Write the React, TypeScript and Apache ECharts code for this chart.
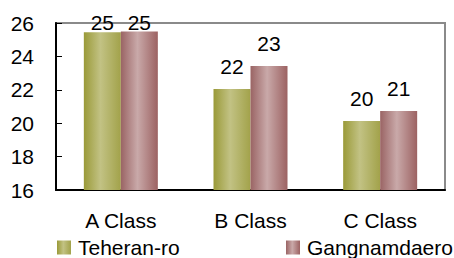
import React, { useEffect, useRef } from "react";
import * as echarts from "echarts";

const categories = ["A Class", "B Class", "C Class"];
const seriesNames = ["Teheran-ro", "Gangnamdaero"];
const teheranValues = [25.45, 22.05, 20.13];
const gangnamValues = [25.49, 23.43, 20.73];
const yTicks = { min: 16, max: 26, interval: 2 };

const FONT = 'Arial, "Liberation Sans", sans-serif';
const FS = 21;

function grad(stops: string[]) {
  return new echarts.graphic.LinearGradient(0, 0, 1, 0, [
    { offset: 0, color: stops[0] },
    { offset: 0.45, color: stops[1] },
    { offset: 1, color: stops[2] },
  ]);
}

function items(vals: number[]) {
  return vals.map((v) =>
    v > 25 ? { value: v, label: { distance: -1 } } : { value: v }
  );
}

export default function App() {
  const ref = useRef<HTMLDivElement>(null);
  useEffect(() => {
    document.body.style.margin = "0";
    const chart = echarts.init(ref.current!, null, { renderer: "svg" });
    const labelCfg = {
      show: true,
      position: "top" as const,
      distance: 12,
      color: "#000",
      fontSize: FS,
      fontFamily: FONT,
      formatter: (p: any) => String(Math.round(p.value)),
    };
    const legendText = {
      fontSize: FS,
      fontFamily: FONT,
      color: "#000",
      lineHeight: 20,
      padding: [0, 0, 0, 2],
    };
    chart.setOption({
      animation: false,
      backgroundColor: "#fff",
      grid: {
        left: 56,
        right: 9,
        top: 23,
        bottom: 68,
        show: true,
        borderColor: "#8a8a8a",
        borderWidth: 2,
        backgroundColor: "transparent",
      },
      legend: [
        {
          data: [seriesNames[0]],
          left: 57,
          top: 237,
          itemWidth: 14,
          itemHeight: 14,
          icon: "rect",
          padding: 0,
          textStyle: legendText,
        },
        {
          data: [seriesNames[1]],
          left: 286,
          top: 237,
          itemWidth: 14,
          itemHeight: 14,
          icon: "rect",
          padding: 0,
          textStyle: legendText,
        },
      ],
      xAxis: {
        type: "category",
        data: categories,
        axisLine: { lineStyle: { color: "#000", width: 2 } },
        axisTick: { inside: true, length: 6, lineStyle: { color: "#000", width: 1 } },
        axisLabel: { fontSize: FS, fontFamily: FONT, color: "#000", margin: 20 },
        splitLine: { show: false },
      },
      yAxis: {
        type: "value",
        min: yTicks.min,
        max: yTicks.max,
        interval: yTicks.interval,
        axisLine: { show: true, lineStyle: { color: "#000", width: 2 } },
        axisTick: { show: true, inside: true, length: 6, lineStyle: { color: "#000", width: 1 } },
        axisLabel: { fontSize: FS, fontFamily: FONT, color: "#000", margin: 22 },
        splitLine: { show: false },
      },
      series: [
        {
          name: seriesNames[0],
          type: "bar",
          data: items(teheranValues),
          barWidth: 37,
          barGap: "0%",
          itemStyle: { color: grad(["#9a9a38", "#c2c284", "#a2a24a"]) },
          label: labelCfg,
        },
        {
          name: seriesNames[1],
          type: "bar",
          data: items(gangnamValues),
          barWidth: 37,
          barGap: "0%",
          itemStyle: { color: grad(["#9a6464", "#c9a9a9", "#9c6262"]) },
          label: labelCfg,
        },
      ],
    });
    return () => chart.dispose();
  }, []);
  return (
    <div
      ref={ref}
      style={{ position: "fixed", left: 0, top: 0, width: 454, height: 258 }}
    />
  );
}
